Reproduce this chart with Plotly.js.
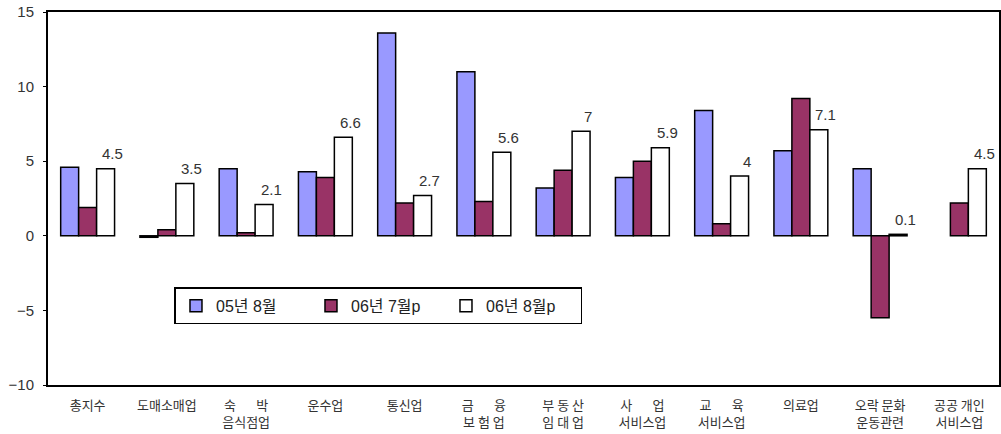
<!DOCTYPE html>
<html>
<head>
<meta charset="utf-8">
<script src="https://cdn.plot.ly/plotly-3.0.1.min.js"></script>
<style>html,body{margin:0;padding:0;background:#fff;}#chart{width:1001px;height:434px;}</style>
</head>
<body>
<div id="chart"></div>
<script>
var NB = '\u00A0';
var categories = [
  '총지수',
  '도매소매업',
  '숙' + NB.repeat(7) + '박<br>음식점업',
  '운수업',
  '통신업',
  '금' + NB.repeat(7) + '융<br>보' + NB + '험' + NB + '업',
  '부' + NB + '동' + NB + '산<br>임' + NB + '대' + NB + '업',
  '사' + NB.repeat(7) + '업<br>서비스업',
  '교' + NB.repeat(7) + '육<br>서비스업',
  '의료업',
  '오락' + NB + '문화<br>운동관련',
  '공공' + NB + '개인<br>서비스업'
];
var seriesNames = ['05년 8월', '06년 7월p', '06년 8월p'];
var values0508 = [4.6, -0.1, 4.5, 4.3, 13.6, 11.0, 3.2, 3.9, 8.4, 5.7, 4.5, null];
var values0607 = [1.9, 0.4, 0.2, 3.9, 2.2, 2.3, 4.4, 5.0, 0.8, 9.2, -5.5, 2.2];
var values0608 = [4.5, 3.5, 2.1, 6.6, 2.7, 5.6, 7.0, 5.9, 4.0, 7.1, 0.1, 4.5];
var yTicks = [-10, -5, 0, 5, 10, 15];

var FONT = 'Liberation Sans, Arial, Noto Sans CJK KR, sans-serif';
var colors = ['#9999FF', '#993366', '#FFFFFF'];
var allVals = [values0508, values0607, values0608];

var traces = allVals.map(function (v, i) {
  return {
    type: 'bar',
    x: categories,
    y: v,
    name: seriesNames[i],
    marker: {color: colors[i], line: {color: '#000', width: 1.5}},
    hoverinfo: 'y'
  };
});

var annotations = values0608.map(function (v, i) {
  return {
    x: categories[i], y: v, xref: 'x', yref: 'y',
    text: String(v), showarrow: false,
    xshift: 25, yshift: 15, yanchor: 'middle',
    font: {family: FONT, size: 15, color: '#333'}
  };
});

var boundaries = categories.slice(1).map(function (c, i) { return i + 0.5; });

var layout = {
  width: 1001, height: 434,
  margin: {l: 48, r: 2, t: 12, b: 49},
  paper_bgcolor: '#fff', plot_bgcolor: '#fff',
  barmode: 'group', bargap: 0.32, bargroupgap: 0,
  showlegend: true,
  legend: {
    orientation: 'h', x: 0.133, y: 0.262, xanchor: 'left', yanchor: 'top',
    bgcolor: '#fff', bordercolor: '#000', borderwidth: 1.5,
    font: {family: FONT, size: 16, color: '#222'},
    traceorder: 'normal', itemwidth: 30, entrywidth: 90
  },
  xaxis: {
    type: 'category', showline: true, linecolor: '#000', linewidth: 2, mirror: true,
    ticks: '', showgrid: false, zeroline: false,
    tickfont: {family: 'Noto Sans CJK KR, sans-serif', size: 13, color: '#333'},
    ticklabelstandoff: 7
  },
  xaxis2: {
    overlaying: 'x', anchor: 'free', position: 0.4, range: [-0.5, categories.length - 0.5],
    showline: true, linecolor: '#000', linewidth: 1.5,
    ticks: 'inside', ticklen: 5, tickwidth: 1.5, tickcolor: '#000',
    tickvals: boundaries, showticklabels: false, showgrid: false, zeroline: false
  },
  yaxis: {
    range: [-10, 15], tickvals: yTicks, showline: true, linecolor: '#000', linewidth: 2,
    mirror: true, ticks: 'outside', ticklen: 3, tickcolor: '#000', showgrid: false, zeroline: false,
    tickfont: {family: FONT, size: 15, color: '#333'}, ticklabelstandoff: 6
  },
  annotations: annotations
};

Plotly.newPlot('chart', traces, layout, {displayModeBar: false, staticPlot: true});
</script>
</body>
</html>
